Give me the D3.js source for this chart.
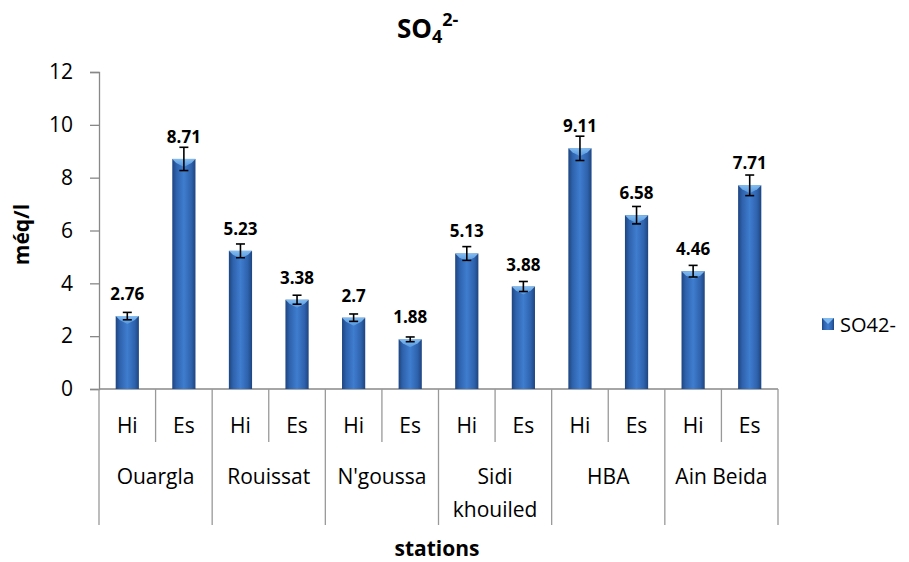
<!DOCTYPE html>
<html>
<head>
<meta charset="utf-8">
<script src="https://cdn.jsdelivr.net/npm/d3@7"></script>
<style>
  body { margin: 0; background: #fff; }
  svg { font-family: "Open Sans", Lato, sans-serif; }
</style>
</head>
<body>
<svg id="chart" width="909" height="562"></svg>
<script>
// Sulfate concentration (méq/l) per station and season
const stations = ["Ouargla", "Rouissat", "N'goussa", "Sidi khouiled", "HBA", "Ain Beida"];
const seasons = ["Hi", "Es"];
const values = [2.76, 8.71, 5.23, 3.38, 2.7, 1.88, 5.13, 3.88, 9.11, 6.58, 4.46, 7.71];
const errors = [0.14, 0.44, 0.26, 0.17, 0.14, 0.09, 0.26, 0.19, 0.46, 0.33, 0.22, 0.39];
const yTicks = [0, 2, 4, 6, 8, 10, 12];
const seriesName = "SO42-";

const svg = d3.select("#chart");
const m = { left: 99, right: 778, top: 72, bottom: 389 };
const FS = 21;

const keys = stations.flatMap(s => seasons.map(se => s + "|" + se));
const x = d3.scaleBand().domain(keys).range([m.left, m.right]).paddingInner(0).paddingOuter(0);
const y = d3.scaleLinear().domain([0, 12]).range([m.bottom, m.top]);

const defs = svg.append("defs");
const g = defs.append("linearGradient").attr("id", "barGrad").attr("x1", 0).attr("x2", 1).attr("y1", 0).attr("y2", 0);
g.append("stop").attr("offset", "0%").attr("stop-color", "#1e4480");
g.append("stop").attr("offset", "18%").attr("stop-color", "#2e62ac");
g.append("stop").attr("offset", "50%").attr("stop-color", "#3f7dcf");
g.append("stop").attr("offset", "82%").attr("stop-color", "#2e62ac");
g.append("stop").attr("offset", "100%").attr("stop-color", "#1e4480");
const tg = defs.append("linearGradient").attr("id", "topGrad").attr("x1", 0).attr("x2", 0).attr("y1", 0).attr("y2", 1);
tg.append("stop").attr("offset", "0%").attr("stop-color", "#8cc6f7");
tg.append("stop").attr("offset", "100%").attr("stop-color", "#5597e0");

// Title with subscript / superscript
const title = svg.append("text").attr("x", 397).attr("y", 38)
  .attr("font-size", 26).attr("font-weight", "bold").attr("fill", "#000");
title.append("tspan").text("SO");
title.append("tspan").attr("font-size", 18).attr("dy", 5).text("4");
title.append("tspan").attr("font-size", 18).attr("dy", -17).text("2-");

// Y axis
const yAxis = d3.axisLeft(y).tickValues(yTicks).tickSize(9).tickPadding(17).tickFormat(d3.format("d"));
const ya = svg.append("g").attr("transform", `translate(${m.left},0)`).call(yAxis);
ya.select(".domain").attr("stroke", "#888").attr("stroke-width", 1.3);
ya.selectAll(".tick line").attr("stroke", "#888").attr("stroke-width", 1.3);
ya.selectAll(".tick text").attr("font-size", FS).attr("fill", "#000").attr("font-family", "'Open Sans', sans-serif");

svg.append("text").attr("transform", `translate(29,${(m.top + m.bottom) / 2 + 4}) rotate(-90)`)
  .attr("text-anchor", "middle").attr("font-size", FS).attr("font-weight", "bold").text("méq/l");

// X axis baseline
svg.append("line").attr("x1", m.left).attr("x2", m.right).attr("y1", m.bottom).attr("y2", m.bottom)
  .attr("stroke", "#888").attr("stroke-width", 1.3);

// Season separators and labels
keys.forEach((k, i) => {
  const x0 = x(k);
  if (i % 2 === 1) {
    svg.append("line").attr("x1", x0).attr("x2", x0).attr("y1", m.bottom).attr("y2", 442)
      .attr("stroke", "#999").attr("stroke-width", 1.3);
  }
  svg.append("text").attr("x", x0 + x.bandwidth() / 2).attr("y", 433)
    .attr("text-anchor", "middle").attr("font-size", FS).text(k.split("|")[1]);
});

// Station separators and labels
stations.forEach((s, i) => {
  const x0 = x(s + "|Hi");
  svg.append("line").attr("x1", x0).attr("x2", x0).attr("y1", m.bottom).attr("y2", 525)
    .attr("stroke", "#999").attr("stroke-width", 1.3);
  const cx = x0 + x.bandwidth();
  const parts = s === "Sidi khouiled" ? ["Sidi", "khouiled"] : [s];
  parts.forEach((p, j) => {
    svg.append("text").attr("x", cx).attr("y", 484 + j * 33)
      .attr("text-anchor", "middle").attr("font-size", FS).text(p);
  });
});
svg.append("line").attr("x1", m.right).attr("x2", m.right).attr("y1", m.bottom).attr("y2", 525)
  .attr("stroke", "#999").attr("stroke-width", 1.3);

svg.append("text").attr("x", 437).attr("y", 556).attr("text-anchor", "middle")
  .attr("font-size", FS).attr("font-weight", "bold").text("stations");

// Bars
const bw = x.bandwidth() * 0.41;
const bars = svg.append("g");
keys.forEach((k, i) => {
  const cx = x(k) + x.bandwidth() / 2;
  const v = values[i];
  const top = y(v);
  bars.append("rect").attr("x", cx - bw / 2).attr("y", top).attr("width", bw).attr("height", m.bottom - top)
    .attr("fill", "url(#barGrad)");
  // bevelled top
  bars.append("path")
    .attr("d", `M${cx - bw / 2},${top} L${cx + bw / 2},${top} L${cx + bw / 2 - 4},${top + 4} L${cx},${top + 8} L${cx - bw / 2 + 4},${top + 4} Z`)
    .attr("fill", "url(#topGrad)").attr("opacity", 0.9);
  // error bar
  const e = errors[i];
  const eg = bars.append("g").attr("stroke", "#000").attr("stroke-width", 1.6);
  eg.append("line").attr("x1", cx).attr("x2", cx).attr("y1", y(v + e)).attr("y2", y(v - e));
  eg.append("line").attr("x1", cx - 4.5).attr("x2", cx + 4.5).attr("y1", y(v + e)).attr("y2", y(v + e));
  eg.append("line").attr("x1", cx - 4.5).attr("x2", cx + 4.5).attr("y1", y(v - e)).attr("y2", y(v - e));
  // value label
  svg.append("text").attr("x", cx).attr("y", top - 16).attr("text-anchor", "middle")
    .attr("font-size", 17).attr("font-weight", "bold").text(d3.format("")(v));
});

// Legend
const lg = svg.append("g").attr("transform", "translate(822,318)");
lg.append("rect").attr("width", 12).attr("height", 12).attr("fill", "url(#barGrad)");
lg.append("path").attr("d", "M0,0 L12,0 L6,6 Z").attr("fill", "#8cc6f7").attr("opacity", 0.85);
lg.append("text").attr("x", 18).attr("y", 13.5).attr("font-size", 20).text(seriesName);
</script>
</body>
</html>
